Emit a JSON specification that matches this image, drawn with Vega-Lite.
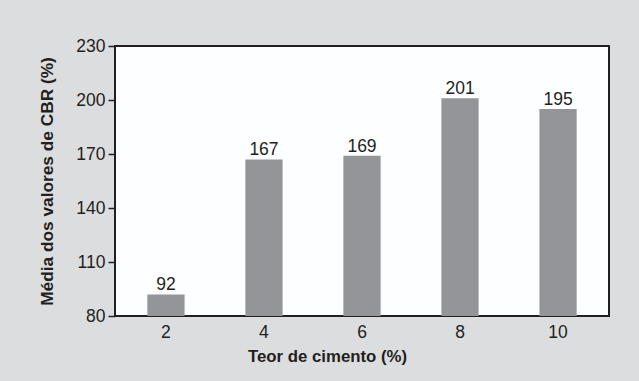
{
  "$schema": "https://vega.github.io/schema/vega-lite/v6.json",
  "autosize": {"type": "none"},
  "padding": {"left": 115, "top": 46, "right": 30, "bottom": 65},
  "width": 494,
  "height": 270,
  "background": "#dcdddf",
  "config": {
    "font": "Liberation Sans",
    "view": {"fill": "#fdfeff", "stroke": "#231f20", "strokeWidth": 2},
    "axis": {
      "domain": false,
      "grid": false,
      "labelFont": "Liberation Sans",
      "labelFontSize": 17.5,
      "labelColor": "#231f20",
      "titleFont": "Liberation Sans",
      "titleFontWeight": "bold",
      "titleColor": "#231f20",
      "tickColor": "#231f20",
      "tickWidth": 1.5
    }
  },
  "data": {
    "values": [
      {"teor": "2", "cbr": 92},
      {"teor": "4", "cbr": 167},
      {"teor": "6", "cbr": 169},
      {"teor": "8", "cbr": 201},
      {"teor": "10", "cbr": 195}
    ]
  },
  "encoding": {
    "x": {
      "field": "teor",
      "type": "nominal",
      "sort": null,
      "scale": {"paddingInner": 0.62, "paddingOuter": 0.33},
      "axis": {
        "title": "Teor de cimento (%)",
        "titleFontSize": 16.8,
        "labelAngle": 0,
        "ticks": false,
        "labelPadding": 7,
        "titlePadding": 8,
        "titleX": 212
      }
    },
    "y": {
      "field": "cbr",
      "type": "quantitative",
      "scale": {"domain": [80, 230], "nice": false, "zero": false},
      "axis": {
        "title": "Média dos valores de CBR (%)",
        "titleFontSize": 17.3,
        "values": [80, 110, 140, 170, 200, 230],
        "tickSize": 7,
        "labelPadding": 3,
        "titlePadding": 19
      }
    }
  },
  "layer": [
    {"mark": {"type": "bar", "color": "#939598", "clip": true}},
    {
      "mark": {
        "type": "text",
        "baseline": "alphabetic",
        "dy": -4,
        "fontSize": 17.5,
        "color": "#231f20"
      },
      "encoding": {"text": {"field": "cbr", "type": "quantitative"}}
    }
  ]
}
